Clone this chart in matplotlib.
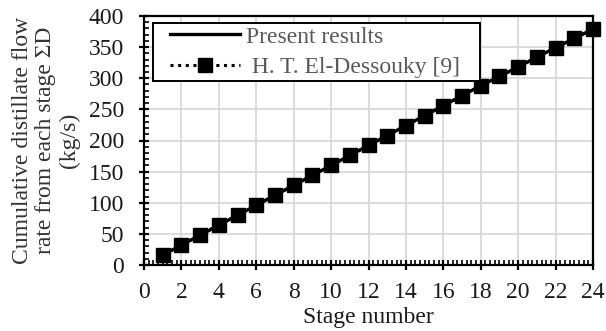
import matplotlib
matplotlib.use("Agg")
import matplotlib.pyplot as plt
from matplotlib.ticker import MultipleLocator
from matplotlib.patches import Rectangle

plt.rcParams['font.family'] = ['Liberation Serif', 'DejaVu Serif']

stages = list(range(1, 25))
present = [16, 32, 48, 64, 80, 96, 112, 128, 144, 160, 176, 192,
           208, 224, 240, 256, 272, 288, 303, 318, 334, 349, 364, 379]
dessouky = [16, 32, 48, 64, 80, 96, 112, 128, 144, 160, 176, 192,
            208, 224, 240, 256, 272, 288, 303, 318, 334, 349, 364, 379]

W, H = 606, 331
fig = plt.figure(figsize=(W / 100, H / 100), dpi=100)
ax = fig.add_axes([144 / W, 1 - 265 / H, (593 - 144) / W, (265 - 16) / H])

FS = 17
TXT = '#1a1a1a'

ax.plot(stages, present, color='black', lw=2.4, label='Present results', zorder=3)
ax.plot(stages, dessouky, color='black', lw=2.2, ls=(0, (1, 1.5)), marker='s',
        markersize=10.5, label=' H. T. El-Dessouky [9]', zorder=4, clip_on=False)

ax.set_xlim(0, 24)
ax.set_ylim(0, 400)
ax.xaxis.set_major_locator(MultipleLocator(2))
ax.xaxis.set_minor_locator(MultipleLocator(0.25))
ax.yaxis.set_major_locator(MultipleLocator(50))
ax.yaxis.set_minor_locator(MultipleLocator(10))

ax.grid(True, which='major', color='#d9d9d9', lw=1.3, zorder=0)
ax.set_axisbelow(True)

for s in ax.spines.values():
    s.set_linewidth(1.6)

ax.tick_params(which='major', direction='inout', length=7, width=1.6,
               labelsize=FS, labelcolor=TXT)
ax.tick_params(axis='y', which='major', pad=11)
ax.tick_params(axis='x', which='major', pad=8.5)
ax.tick_params(which='minor', direction='in', length=3.8, width=1.2)
ax.tick_params(axis='both', which='both', top=False, right=False)

fig.text(368 / W, 1 - 317 / H, 'Stage number', fontsize=FS, color=TXT,
         ha='center', va='center')
fig.text(46 / W, 1 - 140 / H,
         'Cumulative distillate flow\nrate from each stage ΣD\n(kg/s)',
         fontsize=FS, color='#333333', rotation=90, ha='center', va='center',
         multialignment='center', linespacing=1.15)

# legend entries, with a separately drawn frame behind them
leg = ax.legend(loc='upper left', bbox_to_anchor=(170 / W, 1 - 26 / H),
                bbox_transform=fig.transFigure, fontsize=FS, frameon=False,
                handlelength=2.95, handletextpad=0.25, borderpad=0,
                labelspacing=0.4, borderaxespad=0)
leg.set_zorder(6)
for t in leg.get_texts():
    t.set_color('#595959')
ax.add_patch(Rectangle((153 / W, 1 - 81 / H), (480 - 153) / W, (81 - 23) / H,
                       transform=fig.transFigure, facecolor='white',
                       edgecolor='black', lw=1.4, zorder=5, clip_on=False))

fig.savefig('out.png', dpi=100)
